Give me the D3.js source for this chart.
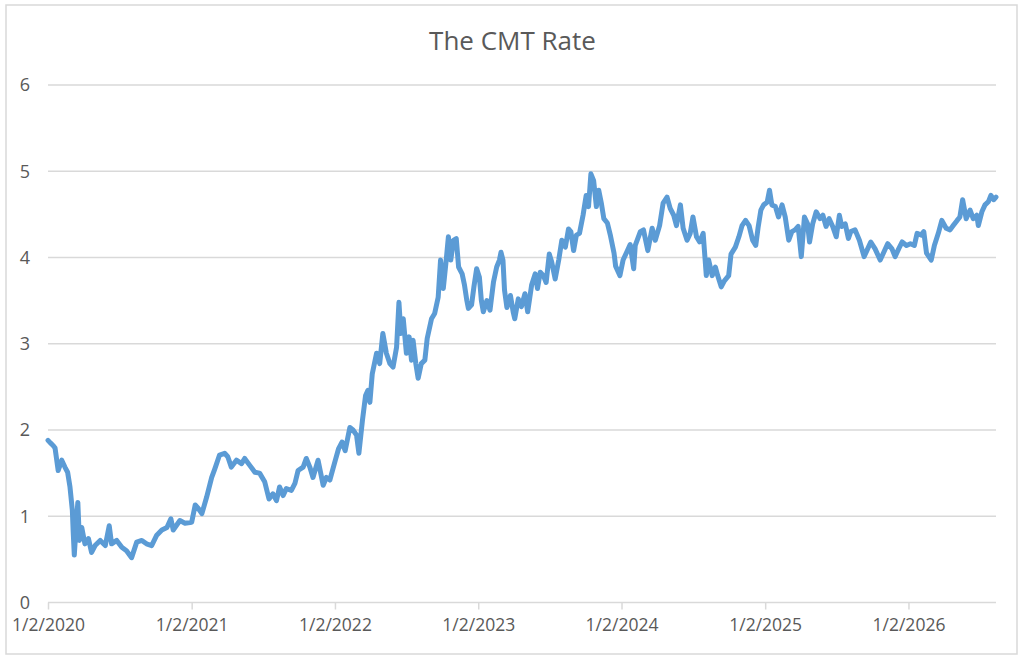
<!DOCTYPE html>
<html>
<head>
<meta charset="utf-8">
<script src="https://cdn.jsdelivr.net/npm/d3@7"></script>
<style>
  html, body { margin: 0; padding: 0; background: #fff; }
  svg { display: block; }
</style>
</head>
<body>
<svg id="chart" width="1026" height="660"></svg>
<script>
const title = "The CMT Rate";
const yTicks = [0, 1, 2, 3, 4, 5, 6];
const xTickDates = ["2020-01-02","2021-01-02","2022-01-02","2023-01-02","2024-01-02","2025-01-02","2026-01-02"];
const xTickLabels = ["1/2/2020","1/2/2021","1/2/2022","1/2/2023","1/2/2024","1/2/2025","1/2/2026"];

const dates = [
"2020-01-02","2020-01-08","2020-01-15","2020-01-20","2020-01-28","2020-02-06","2020-02-14","2020-02-21","2020-02-27",
"2020-03-04","2020-03-06","2020-03-09","2020-03-13","2020-03-18","2020-03-22","2020-03-28","2020-04-05","2020-04-14",
"2020-04-22","2020-05-01","2020-05-14","2020-05-27","2020-06-06","2020-06-12","2020-06-25","2020-07-08","2020-07-20",
"2020-08-02","2020-08-15","2020-08-28","2020-09-09","2020-09-22","2020-10-05","2020-10-18","2020-10-31","2020-11-10",
"2020-11-16","2020-12-03","2020-12-16",
"2021-01-02","2021-01-11","2021-01-19","2021-01-28","2021-02-09","2021-02-22","2021-03-02","2021-03-14","2021-03-27",
"2021-04-04","2021-04-13","2021-04-26","2021-05-09","2021-05-17","2021-05-30","2021-06-12","2021-06-24","2021-07-07",
"2021-07-18","2021-07-28","2021-08-06","2021-08-14","2021-08-23","2021-08-31","2021-09-13","2021-09-22","2021-09-30",
"2021-10-13","2021-10-21","2021-10-30","2021-11-07","2021-11-20","2021-12-03","2021-12-11","2021-12-20",
"2022-01-03","2022-01-11","2022-01-20","2022-01-28","2022-02-09","2022-02-17","2022-02-26","2022-03-04","2022-03-13",
"2022-03-21","2022-03-27","2022-04-01","2022-04-07","2022-04-18","2022-04-26","2022-05-04","2022-05-13","2022-05-22",
"2022-05-30","2022-06-08","2022-06-14","2022-06-19","2022-06-25","2022-07-03","2022-07-10","2022-07-16","2022-07-20",
"2022-07-27","2022-08-02","2022-08-10","2022-08-19","2022-08-25","2022-09-05","2022-09-13","2022-09-22","2022-09-28",
"2022-10-05","2022-10-12","2022-10-18","2022-10-24","2022-10-31","2022-11-07","2022-11-13","2022-11-22","2022-11-28",
"2022-12-04","2022-12-08","2022-12-16","2022-12-22","2022-12-29",
"2023-01-05","2023-01-10","2023-01-15","2023-01-24","2023-02-01","2023-02-10","2023-02-18","2023-02-25","2023-03-01","2023-03-06",
"2023-03-10","2023-03-16","2023-03-25","2023-04-01","2023-04-05","2023-04-14","2023-04-22","2023-05-01","2023-05-08",
"2023-05-18","2023-05-27","2023-06-02","2023-06-09","2023-06-17","2023-06-24","2023-07-02","2023-07-08","2023-07-17",
"2023-07-26","2023-08-03","2023-08-12","2023-08-20","2023-08-26","2023-09-02","2023-09-09","2023-09-17","2023-09-26",
"2023-10-04","2023-10-10","2023-10-16","2023-10-23","2023-10-30","2023-11-05","2023-11-12","2023-11-18","2023-11-27",
"2023-12-05","2023-12-14","2023-12-18","2023-12-29",
"2024-01-06","2024-01-16","2024-01-24","2024-02-02","2024-02-06","2024-02-19","2024-02-27","2024-03-09","2024-03-20",
"2024-03-28","2024-04-08","2024-04-17","2024-04-27","2024-05-05","2024-05-14","2024-05-21","2024-05-31","2024-06-07",
"2024-06-17","2024-06-25","2024-07-02","2024-07-11","2024-07-19","2024-07-28","2024-08-05","2024-08-11","2024-08-20",
"2024-08-28","2024-09-03","2024-09-12","2024-09-20","2024-10-01","2024-10-07","2024-10-18","2024-10-27","2024-11-04",
"2024-11-13","2024-11-22","2024-12-01","2024-12-09","2024-12-15","2024-12-22","2024-12-29",
"2025-01-07","2025-01-13","2025-01-19","2025-01-28","2025-02-05","2025-02-14","2025-02-22","2025-03-03","2025-03-11",
"2025-03-19","2025-03-27","2025-04-04","2025-04-12","2025-04-20","2025-04-25","2025-05-03","2025-05-12","2025-05-22",
"2025-05-29","2025-06-06","2025-06-14","2025-06-23","2025-07-02","2025-07-10","2025-07-16","2025-07-25","2025-08-02",
"2025-08-08","2025-08-19","2025-08-30","2025-09-11","2025-09-18","2025-09-28","2025-10-09","2025-10-22","2025-10-30",
"2025-11-10","2025-11-21","2025-11-29","2025-12-08","2025-12-17","2025-12-28",
"2026-01-07","2026-01-17","2026-01-24","2026-02-03","2026-02-10","2026-02-17","2026-03-01","2026-03-09","2026-03-19",
"2026-03-28","2026-04-08","2026-04-18","2026-04-26","2026-05-06","2026-05-13","2026-05-20","2026-05-29","2026-06-08",
"2026-06-16","2026-06-25","2026-06-29","2026-07-08","2026-07-16","2026-07-25","2026-07-31","2026-08-07","2026-08-13"
];

const rates = [
1.88,1.85,1.82,1.79,1.53,1.65,1.57,1.51,1.34,
1.07,0.84,0.55,0.84,1.16,0.72,0.87,0.68,0.74,
0.58,0.66,0.72,0.66,0.89,0.68,0.72,0.64,0.60,
0.52,0.70,0.72,0.68,0.66,0.78,0.84,0.87,0.97,
0.84,0.95,0.92,
0.93,1.13,1.09,1.03,1.22,1.45,1.55,1.71,1.73,
1.69,1.57,1.65,1.61,1.67,1.59,1.51,1.50,1.40,
1.20,1.26,1.18,1.34,1.24,1.32,1.30,1.38,1.53,
1.57,1.67,1.57,1.45,1.65,1.36,1.45,1.42,
1.65,1.78,1.86,1.76,2.03,2.00,1.94,1.73,2.11,
2.40,2.46,2.32,2.65,2.89,2.77,3.12,2.89,2.77,
2.73,2.96,3.48,3.12,3.29,2.89,3.08,2.81,3.04,
2.77,2.60,2.77,2.81,3.06,3.29,3.35,3.54,3.97,
3.64,3.95,4.24,3.97,4.20,4.22,3.89,3.81,3.68,
3.50,3.41,3.45,3.66,3.87,
3.77,3.50,3.37,3.50,3.39,3.72,3.89,3.97,4.06,3.97,
3.62,3.42,3.56,3.37,3.29,3.52,3.43,3.58,3.37,
3.68,3.81,3.64,3.83,3.79,3.71,4.04,3.95,3.75,
3.97,4.20,4.12,4.33,4.30,4.08,4.26,4.28,4.49,
4.72,4.59,4.97,4.89,4.59,4.78,4.62,4.45,4.40,
4.25,4.05,3.90,3.79,
3.97,4.07,4.15,3.87,4.14,4.30,4.32,4.08,4.34,
4.20,4.37,4.63,4.70,4.57,4.49,4.37,4.61,4.34,
4.20,4.28,4.47,4.24,4.18,4.28,3.79,3.97,3.79,
3.89,3.79,3.66,3.73,3.79,4.04,4.12,4.24,4.37,
4.43,4.37,4.20,4.14,4.35,4.55,4.61,
4.64,4.78,4.61,4.59,4.47,4.61,4.47,4.20,4.30,
4.32,4.36,4.01,4.47,4.39,4.18,4.39,4.53,4.45,
4.49,4.36,4.45,4.36,4.24,4.49,4.36,4.39,4.22,
4.30,4.32,4.20,4.01,4.08,4.18,4.10,3.97,4.05,
4.16,4.10,4.01,4.10,4.18,4.14,
4.16,4.14,4.28,4.26,4.30,4.05,3.97,4.14,4.28,
4.43,4.34,4.32,4.37,4.43,4.47,4.67,4.45,4.55,
4.45,4.49,4.37,4.53,4.61,4.65,4.72,4.67,4.70
];

const parse = d3.timeParse("%Y-%m-%d");
const data = dates.map((d, i) => ({ date: parse(d), value: rates[i] }));

const svg = d3.select("#chart");
const textColor = "#595959";
const gridColor = "#d9d9d9";
const fontFam = "'Open Sans', 'Liberation Sans', sans-serif";

// chart border
svg.append("rect")
  .attr("x", 6).attr("y", 5).attr("width", 1011).attr("height", 649)
  .attr("fill", "#fff").attr("stroke", gridColor).attr("stroke-width", 1.5);

const plot = { left: 48, right: 996, top: 85, bottom: 602.5 };

const x = d3.scaleTime()
  .domain([parse(dates[0]), parse(dates[dates.length - 1])])
  .range([plot.left, plot.right]);
const y = d3.scaleLinear().domain([0, 6]).range([plot.bottom, plot.top]);

// gridlines
svg.append("g").selectAll("line").data(yTicks.filter(v => v > 0)).join("line")
  .attr("x1", plot.left).attr("x2", plot.right)
  .attr("y1", d => y(d)).attr("y2", d => y(d))
  .attr("stroke", gridColor).attr("stroke-width", 1.5);

// y axis labels
const yAxis = d3.axisLeft(y).tickValues(yTicks).tickSize(0).tickPadding(18).tickFormat(d3.format("d"));
const gy = svg.append("g").attr("transform", `translate(${plot.left},0)`).call(yAxis);
gy.select(".domain").remove();
gy.selectAll("text").attr("fill", textColor).style("font-family", fontFam).style("font-size", "18px");

// x axis
const xAxis = d3.axisBottom(x)
  .tickValues(xTickDates.map(parse))
  .tickSize(7).tickPadding(9)
  .tickFormat((d, i) => xTickLabels[i]);
const gx = svg.append("g").attr("transform", `translate(0,${plot.bottom})`).call(xAxis);
gx.select(".domain").attr("stroke", gridColor).attr("stroke-width", 1.5)
  .attr("d", `M${plot.left},0H${plot.right}`);
gx.selectAll(".tick line").attr("stroke", gridColor).attr("stroke-width", 1.5);
gx.selectAll("text").attr("fill", textColor).style("font-family", fontFam).style("font-size", "17.5px");

// line
const line = d3.line().x(d => x(d.date)).y(d => y(d.value)).curve(d3.curveLinear);
svg.append("path").datum(data)
  .attr("d", line)
  .attr("fill", "none")
  .attr("stroke", "#5b9bd5")
  .attr("stroke-width", 5)
  .attr("stroke-linejoin", "round")
  .attr("stroke-linecap", "round");

// title
svg.append("text")
  .attr("x", 512.5).attr("y", 50)
  .attr("text-anchor", "middle")
  .attr("fill", textColor)
  .style("font-family", fontFam)
  .style("font-size", "26px")
  .text(title);
</script>
</body>
</html>
